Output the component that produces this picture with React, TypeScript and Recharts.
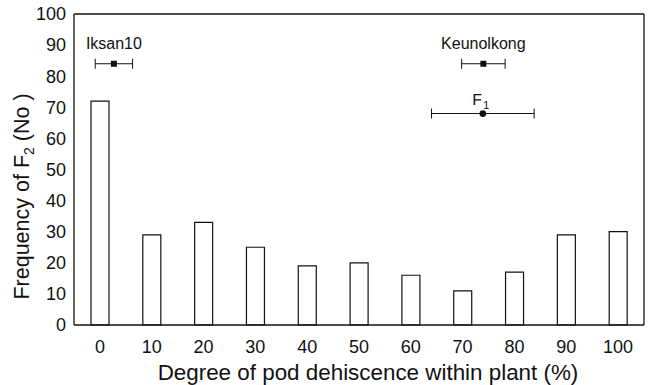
import {
  ComposedChart,
  Bar,
  Scatter,
  ErrorBar,
  LabelList,
  XAxis,
  YAxis,
  ZAxis,
  ReferenceLine,
} from 'recharts'

// degree of pod dehiscence classes (%)
const categories = [0, 10, 20, 30, 40, 50, 60, 70, 80, 90, 100]
// number of F2 plants per class
const frequencies = [72, 29, 33, 25, 19, 20, 16, 11, 17, 29, 30]
const yTicks = [0, 10, 20, 30, 40, 50, 60, 70, 80, 90, 100]

// parents: mean dehiscence +/- error, drawn at a fixed height
const parentNames = ['Iksan10', 'Keunolkong']
const parentMeans = [2.7, 74]
const parentErrors = [3.6, 4.2]
const parentHeights = [84, 84]

const f1Names = ['F1']
const f1Means = [73.9]
const f1Errors = [9.9]
const f1Heights = [68]

const INK = '#111'
const FONT = '"Liberation Sans", Arial, Helvetica, sans-serif'
const X_DOMAIN = [-5, 105]

const barData = categories.map((x, i) => ({ x, freq: frequencies[i] }))
const parentData = parentNames.map((name, i) => ({
  name,
  x: parentMeans[i],
  y: parentHeights[i],
  err: parentErrors[i],
}))
const f1Data = f1Names.map((name, i) => ({
  name,
  x: f1Means[i],
  y: f1Heights[i],
  err: f1Errors[i],
}))

function ParentLabel(props: any) {
  const { viewBox, value } = props
  if (!viewBox) return null
  const cx = viewBox.x + viewBox.width / 2
  const cy = viewBox.y + viewBox.height / 2
  return (
    <text x={cx} y={cy - 15} textAnchor="middle" fontSize={16} fill={INK} fontFamily={FONT}>
      {value}
    </text>
  )
}

// "F1" with the 1 as a subscript
function F1Label(props: any) {
  const { viewBox, value } = props
  if (!viewBox) return null
  const cx = Math.round(viewBox.x + viewBox.width / 2)
  const cy = Math.round(viewBox.y + viewBox.height / 2)
  const main = String(value).slice(0, 1)
  const sub = String(value).slice(1)
  return (
    <g transform={`translate(${cx}, ${cy}) rotate(0.05)`}>
      <text x={-1} y={-9} textAnchor="end" fontSize={16} fill={INK} fontFamily={FONT}>
        {main}
      </text>
      <text x={0} y={-5} textAnchor="start" fontSize={11.5} fill={INK} fontFamily={FONT}>
        {sub}
      </text>
    </g>
  )
}

function XTitle(props: any) {
  const { viewBox } = props
  const cx = viewBox.x + viewBox.width / 2
  return (
    <text x={cx + 9} y={380} textAnchor="middle" fontSize={22.4} fill={INK} fontFamily={FONT}>
      Degree of pod dehiscence within plant (%)
    </text>
  )
}

function YTitle(props: any) {
  const { viewBox } = props
  const cy = viewBox.y + viewBox.height / 2
  return (
    <text
      x={0}
      y={0}
      transform={`translate(29, ${cy + 27}) rotate(-90)`}
      textAnchor="middle"
      fontSize={21.5}
      fill={INK}
      fontFamily={FONT}
    >
      Frequency of F
      <tspan fontSize={14} dy={5} fill={INK}>2</tspan>
      <tspan dy={-5} fill={INK}> (No )</tspan>
    </text>
  )
}

export default function App() {
  return (
    <div style={{ position: 'absolute', left: 0, top: 0, background: '#fff' }}>
      <ComposedChart
        width={651}
        height={385}
        data={barData}
        margin={{ top: 14, right: 7, bottom: 10, left: 0 }}
        style={{ fontFamily: FONT }}
      >
        <XAxis
          type="number"
          dataKey="x"
          domain={X_DOMAIN}
          ticks={categories}
          interval={0}
          tickLine={false}
          tickMargin={9}
          height={50}
          axisLine={{ stroke: INK, strokeWidth: 1.3 }}
          tick={{ fontSize: 18, fill: INK, fontFamily: FONT }}
          label={<XTitle />}
        />
        <XAxis xAxisId="pts" type="number" dataKey="x" domain={X_DOMAIN} hide />
        <YAxis
          type="number"
          domain={[0, 100]}
          ticks={yTicks}
          interval={0}
          width={74}
          tickLine={false}
          axisLine={{ stroke: INK, strokeWidth: 1.3 }}
          tick={{ fontSize: 18, fill: INK, fontFamily: FONT }}
          label={<YTitle />}
        />
        <ZAxis range={[36, 36]} />
        <ReferenceLine y={100} stroke={INK} strokeWidth={1.3} />
        <ReferenceLine x={105} stroke={INK} strokeWidth={1.3} />
        <Bar
          dataKey="freq"
          barSize={18}
          fill="#fff"
          stroke={INK}
          strokeWidth={1.2}
          isAnimationActive={false}
        />
        <Scatter
          xAxisId="pts"
          data={parentData}
          dataKey="y"
          shape="square"
          fill={INK}
          isAnimationActive={false}
        >
          <ErrorBar dataKey="err" direction="x" width={5} stroke={INK} strokeWidth={1} />
          <LabelList dataKey="name" content={<ParentLabel />} />
        </Scatter>
        <Scatter
          xAxisId="pts"
          data={f1Data}
          dataKey="y"
          shape="circle"
          fill={INK}
          isAnimationActive={false}
        >
          <ErrorBar dataKey="err" direction="x" width={5} stroke={INK} strokeWidth={1} />
          <LabelList dataKey="name" content={<F1Label />} />
        </Scatter>
      </ComposedChart>
    </div>
  )
}
